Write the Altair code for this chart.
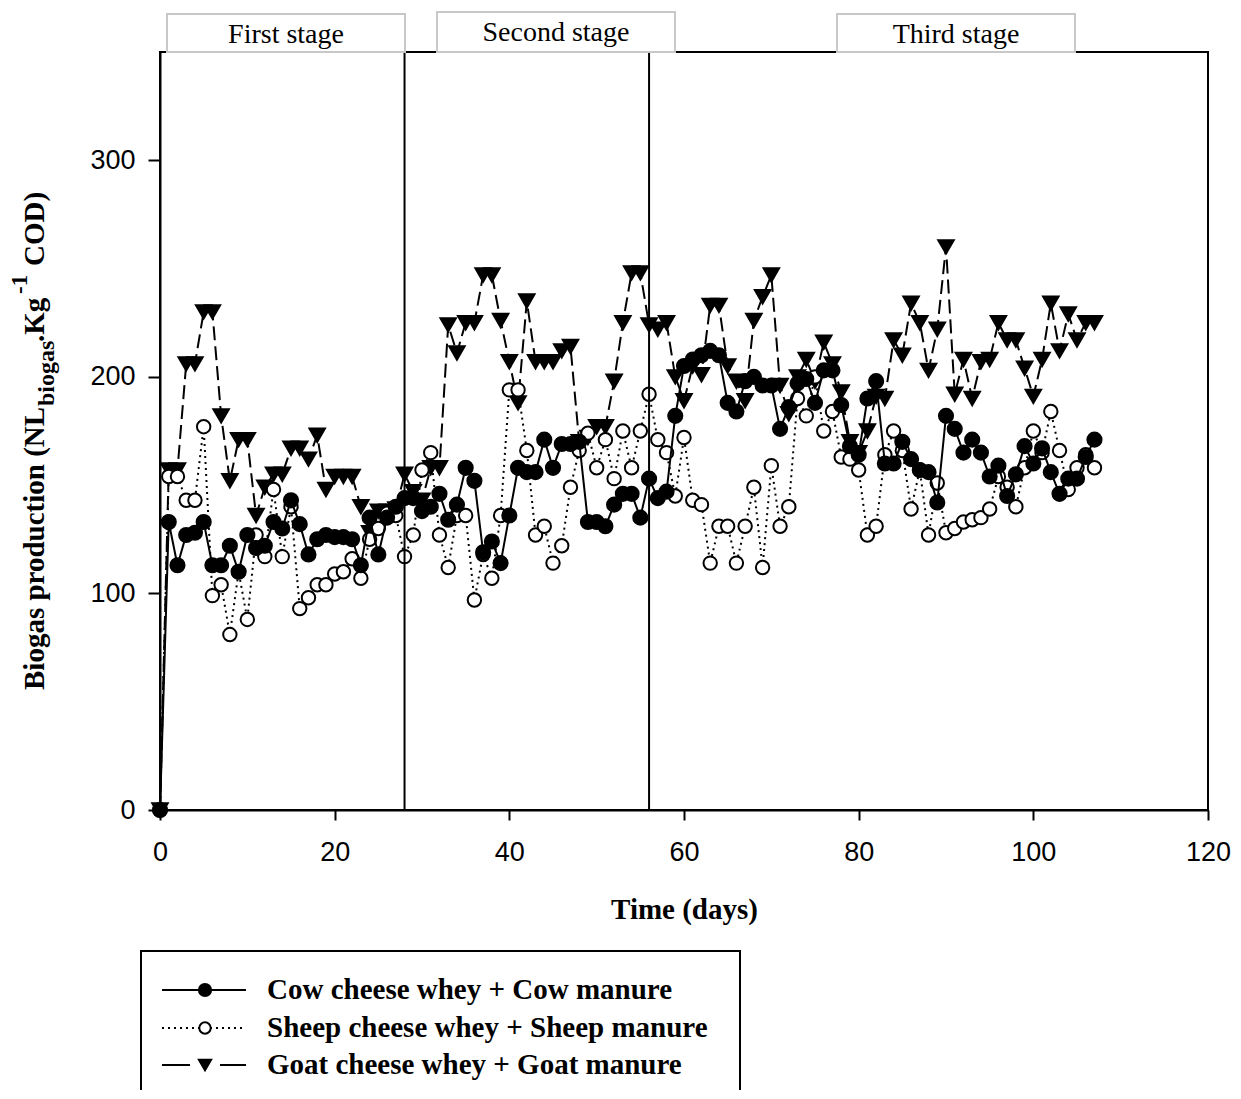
import altair as alt
import pandas as pd

days = list(range(0, 108))

cow = [0, 133, 113, 127, 128, 133, 113, 113, 122, 110,
       127, 121, 122, 133, 130, 143, 132, 118, 125, 127,
       126, 126, 125, 113, 135, 118, 135, 140, 144, 144,
       138, 140, 146, 134, 141, 158, 152, 119, 124, 114,
       136, 158, 156, 156, 171, 158, 169, 169, 170, 133,
       133, 131, 141, 146, 146, 135, 153, 144, 147, 182,
       205, 208, 210, 212, 210, 188, 184, 198, 200, 196,
       196, 176, 186, 197, 199, 188, 203, 203, 187, 168,
       164, 190, 198, 160, 160, 170, 162, 157, 156, 142,
       182, 176, 165, 171, 165, 154, 159, 145, 155, 168,
       160, 167, 156, 146, 153, 153, 163, 171]

sheep = [0, 154, 154, 143, 143, 177, 99, 104, 81, 110,
         88, 127, 117, 148, 117, 140, 93, 98, 104, 104,
         109, 110, 116, 107, 125, 130, 137, 136, 117, 127,
         157, 165, 127, 112, 136, 136, 97, 118, 107, 136,
         194, 194, 166, 127, 131, 114, 122, 149, 166, 174,
         158, 171, 153, 175, 158, 175, 192, 171, 165, 145,
         172, 143, 141, 114, 131, 131, 114, 131, 149, 112,
         159, 131, 140, 190, 182, 200, 175, 184, 163, 162,
         157, 127, 131, 164, 175, 166, 139, 157, 127, 151,
         128, 130, 133, 134, 135, 139, 154, 149, 140, 158,
         175, 165, 184, 166, 148, 158, 164, 158]

goat = [0, 157, 157, 206, 206, 230, 230, 182, 152, 171,
        171, 136, 149, 155, 155, 167, 167, 162, 173, 148,
        154, 154, 154, 140, 128, 138, 138, 139, 155, 147,
        143, 158, 158, 224, 211, 225, 225, 247, 247, 226,
        207, 188, 235, 207, 207, 207, 212, 214, 170, 172,
        177, 177, 198, 225, 248, 248, 224, 222, 225, 200,
        189, 205, 201, 233, 233, 205, 198, 189, 226, 237,
        247, 196, 183, 200, 208, 198, 216, 206, 193, 170,
        165, 175, 191, 190, 217, 210, 234, 225, 203, 222,
        260, 192, 208, 190, 207, 208, 225, 217, 217, 204,
        191, 208, 234, 212, 229, 217, 225, 225]

series_names = ["Cow cheese whey + Cow manure",
                "Sheep cheese whey + Sheep manure",
                "Goat cheese whey + Goat manure"]
stage_names = ["First stage", "Second stage", "Third stage"]
stage_bounds = [28, 56]
x_ticks = [0, 20, 40, 60, 80, 100, 120]
y_ticks = [0, 100, 200, 300]

SERIF = "Liberation Serif"
SANS = "Liberation Sans"

xs = alt.Scale(domain=[0, 120], nice=False)
ys = alt.Scale(domain=[0, 350], nice=False)

xax = alt.Axis(values=x_ticks, labelFont=SANS, labelFontSize=27, labelColor="black",
               tickSize=10, tickWidth=2, tickColor="black", domainColor="black",
               domainWidth=2, labelPadding=19, labelFlush=False, grid=False,
               titleFont=SERIF, titleFontSize=29, titleFontWeight="bold",
               titleColor="black", titlePadding=30)
yax = alt.Axis(values=y_ticks, labelFont=SANS, labelFontSize=27, labelColor="black",
               tickSize=12, tickWidth=2, tickColor="black", domainColor="black",
               domainWidth=2, labelPadding=13, labelFlush=False, grid=False)

def series_df(vals, name):
    return pd.DataFrame({"day": days, "value": vals, "series": name})

def series_layers(vals, name, dash, shape, filled, size):
    df = series_df(vals, name)
    base = alt.Chart(df)
    line_kw = dict(color="black", strokeWidth=2)
    if dash:
        line_kw["strokeDash"] = dash
    line = base.mark_line(**line_kw).encode(
        x=alt.X("day:Q", scale=xs, axis=xax, title="Time (days)"),
        y=alt.Y("value:Q", scale=ys, axis=yax, title=""))
    pt = base.mark_point(shape=shape, filled=True,
                         fill="black" if filled else "white",
                         stroke="black", strokeWidth=2, size=size, opacity=1).encode(
        x=alt.X("day:Q", scale=xs), y=alt.Y("value:Q", scale=ys))
    return [line, pt]

layers = []
layers += series_layers(goat, series_names[2], [14, 6], "triangle-down", True, 240)
layers += series_layers(sheep, series_names[1], [2, 4], "circle", False, 180)
layers += series_layers(cow, series_names[0], None, "circle", True, 200)

# stage separators
sep = alt.Chart(pd.DataFrame({"day": stage_bounds})).mark_rule(
    color="black", strokeWidth=2).encode(x=alt.X("day:Q", scale=xs))
layers.append(sep)

# stage tabs
tab_x = [(7, 245), (277, 515), (677, 915)]
tab_y = [(-38, 0), (-40, 0), (-38, 0)]
text_y = [-17, -19, -17]
for i, name in enumerate(stage_names):
    one = alt.Chart(pd.DataFrame({"label": [name]}))
    layers.append(one.mark_rect(fill="white", stroke="#c8c8c8", strokeWidth=2).encode(
        x=alt.value(tab_x[i][0]), x2=alt.value(tab_x[i][1]),
        y=alt.value(tab_y[i][0]), y2=alt.value(tab_y[i][1])))
    layers.append(one.mark_text(font=SERIF, fontSize=28, color="black",
                                align="center", baseline="middle").encode(
        text="label:N", x=alt.value((tab_x[i][0] + tab_x[i][1]) / 2),
        y=alt.value(text_y[i])))

# y-axis title with sub/superscripts
ytitle_parts = [("Biogas production (NL", 29, -125, 638),
                ("biogas", 24, -113, 354),
                (".Kg", 29, -125, 290),
                ("-1", 23, -140, 242),
                ("COD)", 29, -125, 214)]
for txt, fs, px, py in ytitle_parts:
    layers.append(alt.Chart(pd.DataFrame({"t": [txt]})).mark_text(
        font=SERIF, fontSize=fs, fontWeight="bold", color="black", angle=270,
        align="left", baseline="middle").encode(
        text="t:N", x=alt.value(px), y=alt.value(py)))

# legend
leg_y = [938, 976, 1013]
one = alt.Chart(pd.DataFrame({"a": [0]}))
layers.append(one.mark_rect(fill="white", fillOpacity=0, stroke="black", strokeWidth=2).encode(
    x=alt.value(-19), x2=alt.value(580), y=alt.value(899), y2=alt.value(1060)))
# cow sample
layers.append(one.mark_rule(color="black", strokeWidth=2).encode(
    x=alt.value(2), x2=alt.value(86), y=alt.value(leg_y[0])))
layers.append(one.mark_point(shape="circle", filled=True, fill="black", stroke="black",
                             size=150, opacity=1).encode(x=alt.value(45), y=alt.value(leg_y[0])))
# sheep sample
layers.append(one.mark_rule(color="black", strokeWidth=2, strokeDash=[2, 4]).encode(
    x=alt.value(2), x2=alt.value(86), y=alt.value(leg_y[1])))
layers.append(one.mark_point(shape="circle", filled=True, fill="white", stroke="black",
                             strokeWidth=2, size=130, opacity=1).encode(x=alt.value(45), y=alt.value(leg_y[1])))
# goat sample
layers.append(one.mark_rule(color="black", strokeWidth=2).encode(
    x=alt.value(2), x2=alt.value(30), y=alt.value(leg_y[2])))
layers.append(one.mark_rule(color="black", strokeWidth=2).encode(
    x=alt.value(60), x2=alt.value(86), y=alt.value(leg_y[2])))
layers.append(one.mark_point(shape="triangle-down", filled=True, fill="black", stroke="black",
                             size=150, opacity=1).encode(x=alt.value(45), y=alt.value(leg_y[2])))
for i, name in enumerate(series_names):
    layers.append(alt.Chart(pd.DataFrame({"t": [name]})).mark_text(
        font=SERIF, fontSize=29, fontWeight="bold", color="black",
        align="left", baseline="middle").encode(
        text="t:N", x=alt.value(107), y=alt.value(leg_y[i])))

chart = alt.layer(*layers).properties(
    width=1048, height=758,
    autosize=alt.AutoSizeParams(type="none"),
    padding={"left": 152, "top": 44, "right": 25, "bottom": 280},
).configure_view(stroke="black", strokeWidth=2)

chart.save("out.html", embed_options={"renderer": "svg", "actions": False})
